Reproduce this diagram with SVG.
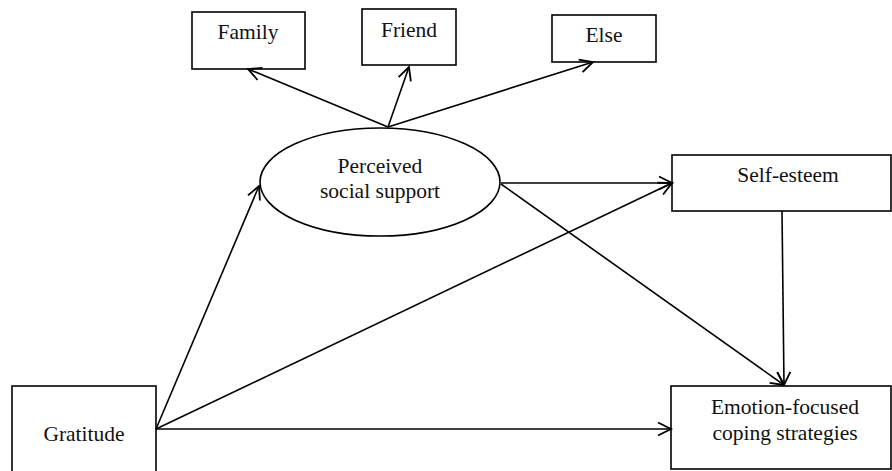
<svg xmlns="http://www.w3.org/2000/svg" width="892" height="471" viewBox="0 0 892 471">
<style>
.box{fill:#fff;stroke:#000;stroke-width:1.6}
.lbl{font-family:"Liberation Serif","Times New Roman",serif;font-size:21.5px;fill:#111;text-anchor:middle}
.c{fill:none;stroke:#000;stroke-width:1.6}
</style>
<defs>
<marker id="ah" markerUnits="userSpaceOnUse" markerWidth="20" markerHeight="20" viewBox="-16 -10 20 20" refX="0" refY="0" orient="auto">
<path d="M-13,-6.5 L0,0 L-13,6.5" fill="none" stroke="#000" stroke-width="1.8"/>
</marker>
</defs>
<rect width="892" height="471" fill="#fff"/>
<g id="family"><rect class="box" x="192" y="12" width="113" height="57"/><text class="lbl" x="248" y="39">Family</text></g>
<g id="friend"><rect class="box" x="362" y="9" width="94" height="56"/><text class="lbl" x="409" y="37">Friend</text></g>
<g id="else"><rect class="box" x="552" y="15" width="104" height="47"/><text class="lbl" x="604" y="42">Else</text></g>
<g id="pss"><ellipse class="box" cx="380" cy="182" rx="120" ry="54"/><text class="lbl" x="380" y="173">Perceived</text><text class="lbl" x="380" y="198">social support</text></g>
<g id="selfesteem"><rect class="box" x="672" y="155" width="219" height="56"/><text class="lbl" x="788" y="182">Self-esteem</text></g>
<g id="gratitude"><rect class="box" x="12" y="386" width="144" height="90"/><text class="lbl" x="84" y="441">Gratitude</text></g>
<g id="emotion"><rect class="box" x="671" y="386" width="220" height="83"/><text class="lbl" x="785" y="414">Emotion-focused</text><text class="lbl" x="785" y="440">coping strategies</text></g>
<g id="connectors">
<line class="c" x1="388" y1="127" x2="248" y2="69" marker-end="url(#ah)"/>
<line class="c" x1="388" y1="127" x2="409" y2="67" marker-end="url(#ah)"/>
<line class="c" x1="388" y1="127" x2="593" y2="62" marker-end="url(#ah)"/>
<line class="c" x1="501" y1="183" x2="672" y2="183" marker-end="url(#ah)"/>
<line class="c" x1="501" y1="184" x2="784" y2="385" marker-end="url(#ah)"/>
<line class="c" x1="782" y1="211" x2="784" y2="385" marker-end="url(#ah)"/>
<line class="c" x1="156" y1="429" x2="259" y2="186" marker-end="url(#ah)"/>
<line class="c" x1="156" y1="429" x2="672" y2="183" marker-end="url(#ah)"/>
<line class="c" x1="156" y1="429" x2="671" y2="429" marker-end="url(#ah)"/>
</g>
</svg>
